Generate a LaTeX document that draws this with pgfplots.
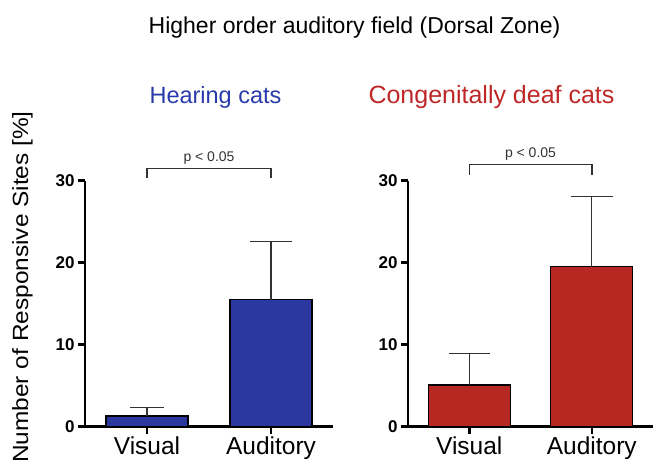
\documentclass[border=0pt]{standalone}
\usepackage{fontspec}
\setmainfont{Liberation Sans}
\usepackage{pgfplots}
\pgfplotsset{compat=1.18}
\definecolor{hblue}{RGB}{43,56,160}
\definecolor{dred}{RGB}{184,40,34}
\definecolor{tblue}{RGB}{42,58,170}
\definecolor{tred}{RGB}{190,40,40}
\definecolor{ebar}{RGB}{50,50,50}
\pgfplotsset{
  panel/.style={
    scale only axis, width=#1, height=246bp,
    xmin=-0.5, xmax=1.5, ymin=0, ymax=30,
    axis lines=left, axis line style={line width=2.5bp, -},
    xtick={0,1}, xticklabels={Visual,Auditory},
    ytick={0,10,20,30},
    tick align=outside, major tick length=7bp,
    tick style={line width=2.5bp, black},
    xticklabel style={font=\fontsize{24.5bp}{24.5bp}\selectfont},
    yticklabel style={font=\bfseries\fontsize{17bp}{17bp}\selectfont},
    /pgf/number format/assume math mode=true,
    clip=false,
    ybar, bar width=82bp, bar shift=0pt,
  },
  ebars/.style={
    error bars/.cd, y dir=plus, y explicit,
    error bar style={line width=1.3bp, ebar},
    error mark=-,
    error mark options={rotate=90, line width=1.3bp, ebar, mark size=#1},
  },
}
\begin{document}
\begin{tikzpicture}
% Left panel: hearing cats
\begin{axis}[panel=248bp, at={(85bp,43.3bp)}, anchor=south west]
\addplot[fill=hblue, draw=black, line width=1.3bp, ebars=17bp]
  coordinates {(0,1.3) +- (0,1.0)};
\addplot[fill=hblue, draw=black, line width=1.3bp, ebars=21bp]
  coordinates {(1,15.5) +- (0,7.05)};
\draw[line width=1.5bp, ebar] (axis cs:0,30.3) |- (axis cs:1,31.5) -- (axis cs:1,30.3);
\node[anchor=base, font=\fontsize{14bp}{14bp}\selectfont, text=ebar, inner sep=0pt] at (axis cs:0.5,32.35) {p < 0.05};
\end{axis}
% Right panel: congenitally deaf cats
\begin{axis}[panel=245bp, at={(408bp,43.3bp)}, anchor=south west]
\addplot[fill=dred, draw=black, line width=1.3bp, ebars=20.5bp]
  coordinates {(0,5.1) +- (0,3.8)};
\addplot[fill=dred, draw=black, line width=1.3bp, ebars=21bp]
  coordinates {(1,19.5) +- (0,8.6)};
\draw[line width=1.5bp, ebar] (axis cs:0,30.7) |- (axis cs:1,32.0) -- (axis cs:1,30.7);
\node[anchor=base, font=\fontsize{14bp}{14bp}\selectfont, text=ebar, inner sep=0pt] at (axis cs:0.5,32.85) {p < 0.05};
\end{axis}
% Titles
\node[anchor=base, font=\fontsize{23bp}{23bp}\selectfont, inner sep=0pt] at (354.5bp,436.8bp) {Higher order auditory field (Dorsal Zone)};
\node[anchor=base, font=\fontsize{23.5bp}{23.5bp}\selectfont, text=tblue, inner sep=0pt] at (215.5bp,366.5bp) {Hearing cats};
\node[anchor=base, font=\fontsize{25bp}{25bp}\selectfont, text=tred, inner sep=0pt] at (491.5bp,366.5bp) {Congenitally deaf cats};
% Y label
\node[rotate=90, anchor=base east, inner sep=0pt, font=\fontsize{22bp}{22bp}\selectfont] at (28bp,359bp) {\scalebox{1.11}[1]{Number of Responsive Sites [\%]}};
\pgfresetboundingbox
\useasboundingbox (0,0) rectangle (654bp,470bp);
\end{tikzpicture}
\end{document}
